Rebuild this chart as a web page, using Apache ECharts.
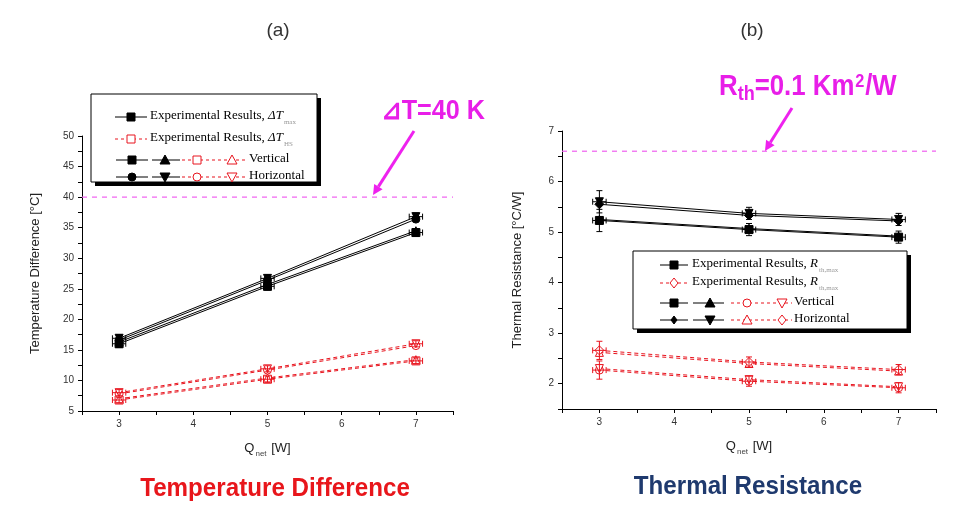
<!DOCTYPE html>
<html><head><meta charset="utf-8">
<script src="https://cdn.jsdelivr.net/npm/echarts@6/dist/echarts.min.js"></script>
<style>html,body{margin:0;padding:0;background:#fff}#c{width:978px;height:509px}</style>
</head><body><div id="c"></div>
<script>
// ---------- data ----------
const qNet = [3, 5, 7];
const qRange = [2.5, 7.5];
// (a) Temperature difference [°C]
const dtMaxVertSq  = [16.0, 25.4, 34.2];
const dtMaxVertTri = [16.3, 25.7, 34.5];
const dtMaxHorCirc = [16.6, 26.4, 36.4];
const dtMaxHorDown = [16.9, 26.7, 36.8];
const dtHsVertSq   = [6.8, 10.2, 13.2];
const dtHsVertTri  = [7.0, 10.4, 13.4];
const dtHsHorCirc  = [7.8, 11.7, 15.7];
const dtHsHorDown  = [8.0, 11.9, 16.0];
const dtMaxErr = [0.6, 0.6, 0.6];
const dtHsErr  = [0.5, 0.5, 0.5];
const dtLimit = 40;
// (b) Thermal resistance [°C/W]
const rthMaxVertSq  = [5.23, 5.05, 4.90];
const rthMaxVertTri = [5.25, 5.07, 4.92];
const rthMaxHorDia  = [5.55, 5.33, 5.22];
const rthMaxHorDown = [5.60, 5.37, 5.25];
const rthHsVertCirc = [2.27, 2.05, 1.92];
const rthHsVertDown = [2.30, 2.08, 1.94];
const rthHsHorTri   = [2.62, 2.40, 2.25];
const rthHsHorDia   = [2.66, 2.43, 2.28];
const rthMaxErr = [0.22, 0.12, 0.12];
const rthHsErr  = [0.18, 0.10, 0.10];
const rthLimit = 6.6;
const qErr = 0.09;
const xTickLabels = ['3', '4', '5', '6', '7'];

// ---------- styles ----------
const BLACK = '#000', RED = '#e8141e', MAG = '#f060f0';
const pairs = ys => qNet.map((q, i) => [q, ys[i]]);

function lineSeries(idx, ys, color, symbol, filled, rotate, dashed) {
  return {
    type: 'line', xAxisIndex: idx, yAxisIndex: idx, data: pairs(ys),
    symbol: symbol, symbolSize: symbol === 'diamond' ? 9 : 8, symbolRotate: rotate || 0,
    lineStyle: { color: color, width: 1, type: dashed ? [4, 3] : 'solid' },
    itemStyle: { color: filled ? color : '#fff', borderColor: color, borderWidth: 1 },
    z: 3, animation: false
  };
}
function limitSeries(idx, val) {
  return {
    type: 'line', xAxisIndex: idx, yAxisIndex: idx, data: qRange.map(q => [q, val]),
    symbol: 'none', lineStyle: { color: MAG, width: 1.2, type: [5, 5] }, z: 2, animation: false, silent: true
  };
}
function errSeries(idx, rows, color) {
  return {
    type: 'custom', xAxisIndex: idx, yAxisIndex: idx, data: rows, z: 4, animation: false,
    encode: { x: 0, y: 1 },
    renderItem: function (p, api) {
      const x = api.value(0), y = api.value(1), xe = api.value(2), ye = api.value(3);
      const l = api.coord([x - xe, y]), r = api.coord([x + xe, y]);
      const t = api.coord([x, y + ye]), b = api.coord([x, y - ye]);
      const st = { stroke: color, lineWidth: 1 }, c = 3;
      const L = (x1, y1, x2, y2) => ({ type: 'line', shape: { x1, y1, x2, y2 }, style: st });
      return { type: 'group', children: [
        L(l[0], l[1], r[0], r[1]), L(l[0], l[1] - c, l[0], l[1] + c), L(r[0], r[1] - c, r[0], r[1] + c),
        L(t[0], t[1], b[0], b[1]), L(t[0] - c, t[1], t[0] + c, t[1]), L(b[0] - c, b[1], b[0] + c, b[1])
      ] };
    }
  };
}
const errRows = (ys, es) => qNet.map((q, i) => [q, ys[i], qErr, es[i]]);

function xAxis(gi) {
  return {
    type: 'value', gridIndex: gi, min: qRange[0], max: qRange[1], interval: 0.5,
    axisLine: { lineStyle: { color: '#000', width: 1 } },
    axisTick: { length: 4, lineStyle: { color: '#000' } },
    splitLine: { show: false },
    axisLabel: {
      color: '#333', fontSize: 10, fontFamily: 'Liberation Sans', margin: 8,
      formatter: v => (Math.abs(v - Math.round(v)) < 1e-6 && xTickLabels.includes(String(Math.round(v)))) ? String(Math.round(v)) : ''
    },
    name: '{q|Q}{s|net}{w| [W]}', nameLocation: 'middle', nameGap: 31,
    nameTextStyle: { rich: {
      q: { fontSize: 13, fontFamily: 'Liberation Sans', color: '#222', verticalAlign: 'top', lineHeight: 16 },
      s: { fontSize: 8, fontFamily: 'Liberation Sans', color: '#444', verticalAlign: 'top', padding: [8, 1, 0, 1], lineHeight: 16 },
      w: { fontSize: 13, fontFamily: 'Liberation Sans', color: '#222', verticalAlign: 'top', lineHeight: 16 }
    } }
  };
}
function yAxis(gi, min, max, interval, name, gap, fmt) {
  return {
    type: 'value', gridIndex: gi, min, max, interval,
    axisLine: { show: true, lineStyle: { color: '#000', width: 1 } },
    axisTick: { show: true, length: 4, lineStyle: { color: '#000' } },
    splitLine: { show: false },
    axisLabel: { color: '#333', fontSize: 10, fontFamily: 'Liberation Sans', margin: 8, formatter: fmt },
    name, nameLocation: 'middle', nameGap: gap,
    nameTextStyle: { fontSize: 13, fontFamily: 'Liberation Sans', color: '#222' }
  };
}

// ---------- graphic helpers ----------
function sym(kind, cx, cy, color, filled, s) {
  s = s || 4;
  const st = { fill: filled ? color : '#fff', stroke: color, lineWidth: 1 };
  if (kind === 'rect') return { type: 'rect', shape: { x: cx - s, y: cy - s, width: 2 * s, height: 2 * s }, style: st, z: 20 };
  if (kind === 'circle') return { type: 'circle', shape: { cx, cy, r: s }, style: st, z: 20 };
  if (kind === 'tri') return { type: 'polygon', shape: { points: [[cx, cy - s - 1], [cx + s + 1, cy + s], [cx - s - 1, cy + s]] }, style: st, z: 20 };
  if (kind === 'down') return { type: 'polygon', shape: { points: [[cx, cy + s + 1], [cx + s + 1, cy - s], [cx - s - 1, cy - s]] }, style: st, z: 20 };
  if (kind === 'diamond') return { type: 'polygon', shape: { points: [[cx, cy - s - 1], [cx + s, cy], [cx, cy + s + 1], [cx - s, cy]] }, style: st, z: 20 };
}
function seg(x1, x2, y, color, dashed) {
  return { type: 'line', shape: { x1, y1: y, x2, y2: y }, style: { stroke: color, lineWidth: 1, lineDash: dashed ? [3, 3] : null }, z: 19 };
}
function txt(x, y, rich, text, z) {
  return { type: 'text', x, y, z: z || 20, style: { text, rich, textVerticalAlign: 'middle', verticalAlign: 'middle', fill: '#000' } };
}
const legRich = {
  n: { fontSize: 13, fontFamily: 'Liberation Serif', fill: '#000', color: '#000', verticalAlign: 'top', lineHeight: 16 },
  i: { fontSize: 13, fontFamily: 'Liberation Serif', fontStyle: 'italic', fill: '#000', color: '#000', verticalAlign: 'top', lineHeight: 16 },
  s: { fontSize: 7, fontFamily: 'Liberation Serif', fill: '#999', color: '#999', verticalAlign: 'top', padding: [10, 0, 0, 1], lineHeight: 16 }
};
function legendBox(x1, y1, x2, y2) {
  return [
    { type: 'rect', shape: { x: x1 + 4, y: y1 + 4, width: x2 - x1, height: y2 - y1 }, style: { fill: '#000' }, z: 15 },
    { type: 'rect', shape: { x: x1, y: y1, width: x2 - x1, height: y2 - y1 }, style: { fill: '#fff', stroke: '#000', lineWidth: 1 }, z: 16 }
  ];
}
function arrow(x1, y1, x2, y2, color) {
  const a = Math.atan2(y2 - y1, x2 - x1), L = 10, W = 5;
  const bx = x2 - L * Math.cos(a), by = y2 - L * Math.sin(a);
  const px = -Math.sin(a) * W, py = Math.cos(a) * W;
  return [
    { type: 'line', shape: { x1, y1, x2: bx, y2: by }, style: { stroke: color, lineWidth: 3 }, z: 20 },
    { type: 'polygon', shape: { points: [[x2, y2], [bx + px, by + py], [bx - px, by - py]] }, style: { fill: color }, z: 20 }
  ];
}

// ---------- legends ----------
const gfx = [];
// (a) legend
gfx.push(...legendBox(91, 94, 317, 182));
[
  [117, 'Experimental Results, ', 'ΔT', 'max', BLACK, false, 'rect', true],
  [139, 'Experimental Results, ', 'ΔT', 'HS', RED, true, 'rect', false]
].forEach(r => {
  gfx.push(seg(115, 147, r[0], r[4], r[5]), sym(r[6], 131, r[0], r[4], r[7]));
  gfx.push(txt(150, r[0], legRich, '{n|' + r[1] + '}{i|' + r[2] + '}{s|' + r[3] + '}'));
});
[[160, ['rect', 'tri', 'rect', 'tri'], 'Vertical'], [177, ['circle', 'down', 'circle', 'down'], 'Horizontal']].forEach(r => {
  const y = r[0];
  gfx.push(seg(116, 148, y, BLACK), seg(152, 180, y, BLACK), seg(182, 247, y, RED, true));
  gfx.push(sym(r[1][0], 132, y, BLACK, true), sym(r[1][1], 165, y, BLACK, true), sym(r[1][2], 197, y, RED, false), sym(r[1][3], 232, y, RED, false));
  gfx.push(txt(249, y, legRich, '{n|' + r[2] + '}'));
});
// (b) legend
gfx.push(...legendBox(633, 251, 907, 329));
[
  [265, BLACK, false, 'rect', true],
  [283, RED, true, 'diamond', false]
].forEach(r => {
  gfx.push(seg(660, 688, r[0], r[1], r[2]), sym(r[3], 674, r[0], r[1], r[4]));
  gfx.push(txt(692, r[0], legRich, '{n|Experimental Results, }{i|R}{s|th,max}'));
});
[[303, ['rect', 'tri', 'circle', 'down'], 'Vertical'], [320, ['diamond', 'down', 'tri', 'diamond'], 'Horizontal']].forEach(r => {
  const y = r[0];
  gfx.push(seg(660, 688, y, BLACK), seg(693, 724, y, BLACK), seg(731, 792, y, RED, true));
  gfx.push(sym(r[1][0], 674, y, BLACK, true, r[1][0] === 'diamond' ? 3 : 4), sym(r[1][1], 710, y, BLACK, true),
           sym(r[1][2], 747, y, RED, false), sym(r[1][3], 782, y, RED, false));
  gfx.push(txt(794, y, legRich, '{n|' + r[2] + '}'));
});

// ---------- annotations ----------
const headFont = { fontFamily: 'Liberation Sans', fontSize: 19, fill: '#333' };
gfx.push({ type: 'text', x: 278, y: 31, style: Object.assign({ text: '(a)', textAlign: 'center', align: 'center', textVerticalAlign: 'middle', verticalAlign: 'middle' }, headFont) });
gfx.push({ type: 'text', x: 752, y: 31, style: Object.assign({ text: '(b)', textAlign: 'center', align: 'center', textVerticalAlign: 'middle', verticalAlign: 'middle' }, headFont) });
gfx.push({ type: 'text', x: 381, y: 111, scaleX: 0.9, style: {
  text: '⊿T=40 K', fill: '#e81ee8', fontFamily: 'Liberation Sans', fontWeight: 'bold', fontSize: 28,
  textVerticalAlign: 'middle', verticalAlign: 'middle' } });
gfx.push(...arrow(414, 131, 373, 195, '#ee22ee'));
gfx.push({ type: 'text', x: 719, y: 72, scaleX: 0.86, style: {
  text: '{a|R}{s|th}{a|=0.1 Km}{p|2}{a|/W}',
  rich: {
    a: { fill: '#e81ee8', color: '#e81ee8', fontFamily: 'Liberation Sans', fontWeight: 'bold', fontSize: 30, verticalAlign: 'top', lineHeight: 32 },
    s: { fill: '#e81ee8', color: '#e81ee8', fontFamily: 'Liberation Sans', fontWeight: 'bold', fontSize: 21, verticalAlign: 'top', padding: [12, 0, 0, 0], lineHeight: 32 },
    p: { fill: '#e81ee8', color: '#e81ee8', fontFamily: 'Liberation Sans', fontWeight: 'bold', fontSize: 19, verticalAlign: 'top', padding: [0, 1, 0, 1], lineHeight: 32 }
  }, textVerticalAlign: 'top', verticalAlign: 'top' } });
gfx.push(...arrow(792, 108, 765, 151, '#ee22ee'));
gfx.push({ type: 'text', x: 275, y: 489, scaleX: 0.93, style: {
  text: 'Temperature Difference', fill: '#e8161b', fontFamily: 'Liberation Sans', fontWeight: 'bold', fontSize: 26,
  textAlign: 'center', align: 'center', textVerticalAlign: 'middle', verticalAlign: 'middle' } });
gfx.push({ type: 'text', x: 748, y: 487, scaleX: 0.93, style: {
  text: 'Thermal Resistance', fill: '#1f3a6e', fontFamily: 'Liberation Sans', fontWeight: 'bold', fontSize: 26,
  textAlign: 'center', align: 'center', textVerticalAlign: 'middle', verticalAlign: 'middle' } });

// ---------- chart ----------
const fmtInt = v => (Math.abs(v - Math.round(v)) < 1e-6) ? String(Math.round(v)) : '';
const series = [
  limitSeries(0, dtLimit),
  lineSeries(0, dtMaxVertSq, BLACK, 'rect', true),
  lineSeries(0, dtMaxVertTri, BLACK, 'triangle', true),
  lineSeries(0, dtMaxHorCirc, BLACK, 'circle', true),
  lineSeries(0, dtMaxHorDown, BLACK, 'triangle', true, 180),
  lineSeries(0, dtHsVertSq, RED, 'rect', false, 0, true),
  lineSeries(0, dtHsVertTri, RED, 'triangle', false, 0, true),
  lineSeries(0, dtHsHorCirc, RED, 'circle', false, 0, true),
  lineSeries(0, dtHsHorDown, RED, 'triangle', false, 180, true),
  errSeries(0, [].concat(errRows(dtMaxVertSq, dtMaxErr), errRows(dtMaxHorDown, dtMaxErr)), BLACK),
  errSeries(0, [].concat(errRows(dtHsVertSq, dtHsErr), errRows(dtHsHorDown, dtHsErr)), RED),
  limitSeries(1, rthLimit),
  lineSeries(1, rthMaxVertSq, BLACK, 'rect', true),
  lineSeries(1, rthMaxVertTri, BLACK, 'triangle', true),
  lineSeries(1, rthMaxHorDia, BLACK, 'diamond', true),
  lineSeries(1, rthMaxHorDown, BLACK, 'triangle', true, 180),
  lineSeries(1, rthHsVertCirc, RED, 'circle', false, 0, true),
  lineSeries(1, rthHsVertDown, RED, 'triangle', false, 180, true),
  lineSeries(1, rthHsHorTri, RED, 'triangle', false, 0, true),
  lineSeries(1, rthHsHorDia, RED, 'diamond', false, 0, true),
  errSeries(1, [].concat(errRows(rthMaxVertSq, rthMaxErr), errRows(rthMaxHorDown, rthMaxErr)), BLACK),
  errSeries(1, [].concat(errRows(rthHsVertCirc, rthHsErr), errRows(rthHsHorDia, rthHsErr)), RED)
];

const chart = echarts.init(document.getElementById('c'), null, { renderer: 'canvas' });
chart.setOption({
  backgroundColor: '#fff',
  animation: false,
  grid: [
    { left: 82, top: 136, width: 371, height: 275 },
    { left: 562, top: 131, width: 374, height: 278 }
  ],
  xAxis: [xAxis(0), xAxis(1)],
  yAxis: [
    yAxis(0, 5, 50, 2.5, 'Temperature Difference [°C]', 40, v => (Math.abs(v / 5 - Math.round(v / 5)) < 1e-6) ? String(v) : ''),
    yAxis(1, 1.5, 7, 0.5, 'Thermal Resistance [°C/W]', 38, fmtInt)
  ],
  series,
  graphic: gfx
});
</script></body></html>
